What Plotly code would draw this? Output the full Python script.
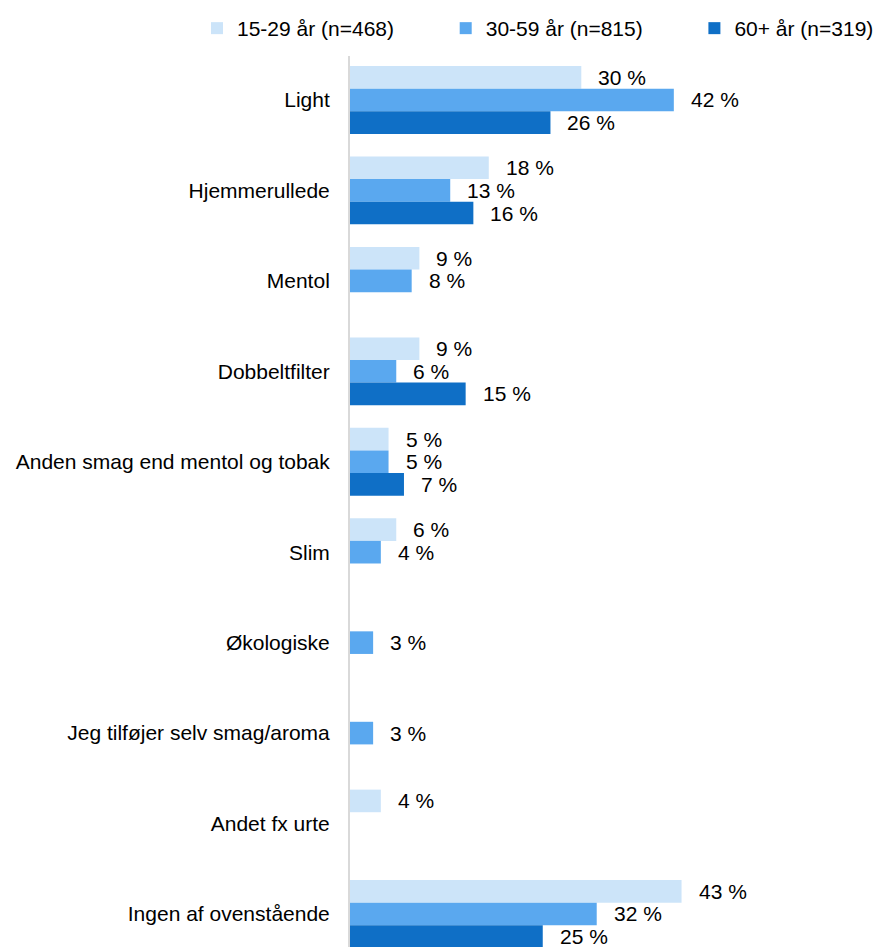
import plotly.graph_objects as go

categories = ["Light", "Hjemmerullede", "Mentol", "Dobbeltfilter",
              "Anden smag end mentol og tobak", "Slim", "Økologiske",
              "Jeg tilføjer selv smag/aroma", "Andet fx urte", "Ingen af ovenstående"]
series_names = ["15-29 år (n=468)", "30-59 år (n=815)", "60+ år (n=319)"]
v_15_29 = [30, 18, 9, 9, 5, 6, None, None, 4, 43]
v_30_59 = [42, 13, 8, 6, 5, 4, 3, 3, None, 32]
v_60 = [26, 16, None, 15, 7, None, None, None, None, 25]
colors = ["#CCE4F9", "#5AA8EF", "#0F6FC6"]

all_values = [v_15_29, v_30_59, v_60]
FONT = "Liberation Sans, Arial, sans-serif"
FS = 21
NBSP_PAD = "\u00a0" * 8

fig = go.Figure()
for i, (name, vals, col) in enumerate(zip(series_names, all_values, colors)):
    legend_name = name + (NBSP_PAD if i < len(series_names) - 1 else "")
    fig.add_trace(go.Bar(
        y=categories, x=vals, name=legend_name, orientation="h",
        marker=dict(color=col, line=dict(width=0)),
        hoverinfo="skip",
    ))

slot_px = 22.6
for k, vals in enumerate(all_values):
    for cat, v in zip(categories, vals):
        if v is None:
            continue
        fig.add_annotation(
            x=v, y=cat, text=f"{v} %", showarrow=False,
            xanchor="left", yanchor="middle", xshift=15,
            yshift=-(k - 1) * slot_px,
            font=dict(family=FONT, size=FS, color="#000000"),
        )

# page body has an 8px default margin; figure is shifted accordingly
fig.update_layout(
    width=874, height=939,
    margin=dict(l=342, r=0, t=47, b=0),
    barmode="group", bargap=0.25, bargroupgap=0.0,
    plot_bgcolor="white", paper_bgcolor="white",
    font=dict(family=FONT, size=FS, color="#000000"),
    legend=dict(
        orientation="h", xref="paper", yref="paper",
        x=-0.2876, y=1.0314, xanchor="left", yanchor="middle",
        font=dict(family=FONT, size=FS, color="#000000"),
        itemwidth=30, traceorder="normal",
    ),
    xaxis=dict(range=[0, 69], visible=False, fixedrange=True),
    yaxis=dict(
        autorange=False, range=[9.365, -0.486],
        showline=True, linecolor="#D9D9D9", linewidth=2,
        ticks="outside", ticklen=14, tickcolor="rgba(0,0,0,0)",
        showgrid=False, zeroline=False,
        tickfont=dict(family=FONT, size=FS, color="#000000"),
    ),
)

fig.write_html("out.html")
